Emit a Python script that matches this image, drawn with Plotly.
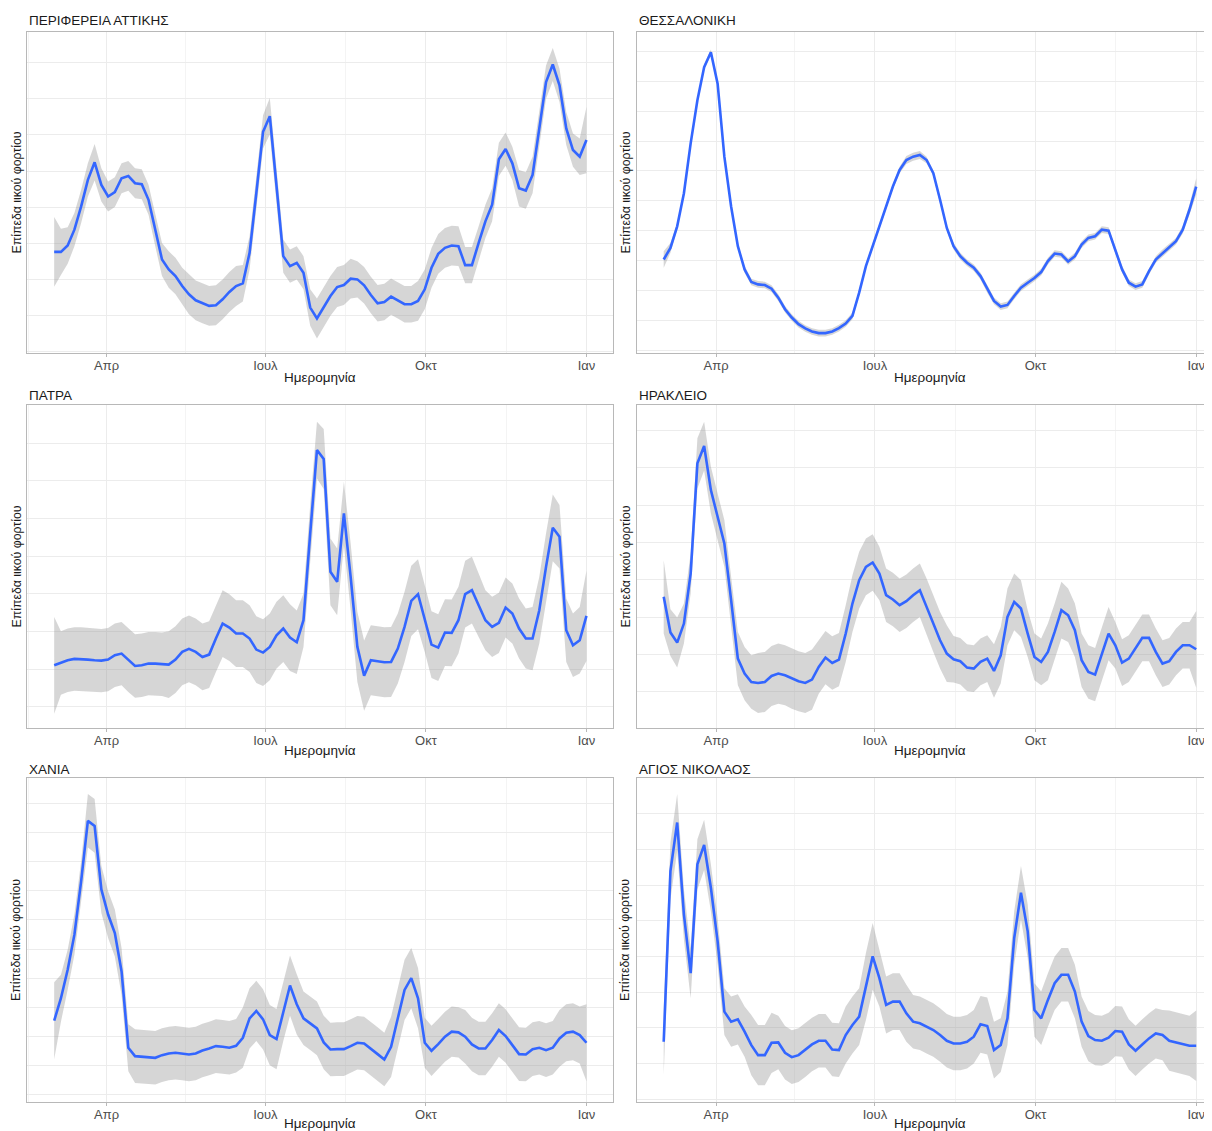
import pandas as pd
import plotly.graph_objects as go

# the page puts an 8px margin round the figure, so the figure is drawn 8px smaller
PAGE_PAD = 8
W, H = 1212 - PAGE_PAD, 1131 - PAGE_PAD

month_ticks = ["2022-04-01", "2022-07-01", "2022-10-01", "2023-01-01"]
month_labels = ["Απρ", "Ιουλ", "Οκτ", "Ιαν"]
minor_ticks = ["2022-02-15", "2022-05-16", "2022-08-16", "2022-11-16"]

panel_names = ["ΠΕΡΙΦΕΡΕΙΑ ΑΤΤΙΚΗΣ", "ΘΕΣΣΑΛΟΝΙΚΗ", "ΠΑΤΡΑ",
               "ΗΡΑΚΛΕΙΟ", "ΧΑΝΙΑ", "ΑΓΙΟΣ ΝΙΚΟΛΑΟΣ"]

# smoothed level (arbitrary units) and half width of the grey band
attiki_level = [30.5, 30.5, 32.4, 37.2, 44.2, 52.2, 57.5, 50.7, 47.2, 48.5,
                52.7, 53.4, 51.2, 50.9, 46.2, 37.2, 28.2, 25.2, 23.2, 20.2,
                17.7, 15.9, 15.0, 14.2, 14.4, 16.2, 18.4, 20.2, 21.0, 30.2,
                48.2, 66.7, 71.4, 50.2, 29.2, 26.2, 27.2, 24.2, 13.7, 10.4,
                13.7, 17.2, 19.9, 20.5, 22.4, 22.2, 20.4, 17.5, 15.0, 15.4,
                17.0, 15.9, 14.7, 14.7, 15.7, 19.2, 25.7, 29.9, 31.7, 32.4,
                32.2, 26.5, 26.5, 33.2, 39.7, 44.7, 58.4, 61.5, 57.2, 49.7,
                49.0, 53.7, 68.2, 81.7, 87.0, 80.7, 67.7, 61.2, 59.2, 64.2]
attiki_band = [10.5, 7, 5.5, 5, 5, 5, 5.5, 5, 4.5, 4.5,
               4.5, 4.5, 4.5, 4.5, 4.5, 5, 5, 5.5, 5.5, 5.5,
               6, 6, 6, 6, 6, 6, 6, 6, 5.5, 5,
               5, 5, 5.5, 5.5, 5, 5, 5, 5, 5.5, 6,
               6, 6, 6, 6, 6, 5.5, 5.5, 5.5, 5.5, 5.5,
               5.5, 5.5, 5.5, 5.5, 6, 6, 6, 6, 6, 6,
               6, 5.5, 5.5, 5, 5, 5, 5, 5, 5, 5.5,
               5.5, 5.5, 5, 5, 5, 5, 5, 5, 5.5, 10]

thess_level = [28.2, 31.7, 38.2, 48.2, 63.2, 76.2, 86.2, 90.7, 81.2, 59.2,
               44.2, 32.2, 25.2, 21.4, 20.7, 20.5, 19.4, 16.7, 13.2, 10.7,
               8.7, 7.4, 6.5, 6.0, 6.0, 6.5, 7.5, 8.9, 11.2, 18.2,
               26.2, 32.2, 38.2, 44.2, 50.2, 55.2, 58.2, 59.2, 59.7, 58.2,
               54.2, 46.2, 37.7, 32.2, 29.2, 27.2, 25.7, 23.2, 19.2, 15.7,
               14.0, 14.5, 17.2, 19.7, 21.2, 22.6, 24.4, 27.7, 30.0, 29.7,
               27.6, 29.2, 32.7, 34.7, 35.2, 37.2, 36.9, 31.2, 25.2, 21.2,
               20.0, 20.7, 24.7, 28.2, 30.2, 31.9, 33.7, 37.2, 43.2, 50.2]
thess_band = [2.5, 1.5, 1.0, 0.8, 0.8, 0.8, 0.8, 0.8, 0.8, 0.8,
              0.8, 0.8, 1.0, 1.0, 1.0, 1.0, 1.0, 1.0, 1.0, 1.0,
              1.0, 1.0, 1.0, 1.0, 1.0, 1.0, 1.0, 1.0, 1.0, 0.8,
              0.8, 0.8, 0.8, 0.8, 0.8, 1.0, 1.2, 1.2, 1.2, 1.0,
              0.8, 0.8, 0.8, 1.0, 1.0, 1.0, 1.0, 1.0, 1.0, 1.0,
              1.0, 1.0, 1.0, 1.0, 1.0, 1.0, 1.0, 1.0, 1.0, 1.0,
              1.0, 1.0, 1.0, 1.0, 1.0, 1.0, 1.0, 1.0, 1.0, 1.0,
              1.0, 1.0, 1.0, 1.0, 1.0, 1.0, 1.0, 1.2, 1.5, 2.5]

patra_level = [18.8, 19.5, 20.3, 20.7, 20.7, 20.5, 20.3, 20.2, 20.5, 21.8,
               22.3, 20.3, 18.6, 18.8, 19.3, 19.3, 19.1, 19.0, 20.5, 22.8,
               23.7, 22.8, 21.3, 22.0, 26.8, 31.3, 30.1, 28.3, 28.3, 26.8,
               23.5, 22.6, 24.3, 27.8, 29.8, 27.1, 25.7, 32.3, 58.3, 83.3,
               80.6, 46.8, 43.8, 64.3, 45.3, 24.3, 15.7, 20.3, 20.0, 19.7,
               19.8, 23.8, 30.3, 38.1, 40.1, 32.8, 25.0, 24.1, 28.6, 28.5,
               32.3, 40.1, 41.3, 36.8, 32.3, 30.3, 31.5, 36.1, 34.3, 29.8,
               26.8, 26.8, 35.3, 48.3, 60.0, 57.3, 29.3, 24.8, 26.3, 33.6]
patra_band = [14.5, 9.5, 9.5, 9.5, 9.5, 9.5, 9.5, 9.5, 9.5, 9.5,
              9.5, 9.5, 9.5, 9.5, 9.5, 9.5, 9.5, 10, 10, 10,
              10, 10, 10, 10, 10, 10, 10, 10, 10, 10,
              10, 10, 10, 10, 10, 10, 9.5, 8, 8.5, 8.5,
              9, 10, 10, 9.5, 10, 10.5, 10.5, 10.5, 10.5, 10.5,
              10.5, 10.5, 10.5, 10.5, 10.5, 10, 10, 10, 10, 10,
              10, 10, 10, 9.5, 9, 9, 9, 9, 9, 9,
              9, 9.5, 10, 10, 10, 9.5, 9.5, 9.5, 10, 13.5]

herakl_level = [39.3, 28.6, 25.6, 31.3, 46.3, 79.3, 84.5, 71.3, 63.3, 55.3,
                38.3, 20.8, 16.3, 13.8, 13.5, 13.8, 15.6, 16.3, 15.8, 14.8,
                14.0, 13.5, 14.5, 18.3, 21.1, 19.5, 20.5, 28.3, 37.3, 44.3,
                48.3, 49.6, 46.3, 39.8, 38.5, 36.8, 38.0, 39.8, 41.3, 36.3,
                31.3, 26.3, 22.3, 20.6, 20.0, 18.1, 17.8, 19.8, 20.8, 17.1,
                21.8, 33.3, 37.8, 35.8, 28.3, 21.3, 19.8, 22.8, 28.8, 35.3,
                33.8, 29.3, 20.3, 16.8, 16.0, 22.3, 28.3, 24.8, 19.6, 20.8,
                23.8, 27.0, 27.0, 22.8, 19.3, 20.0, 22.8, 24.8, 24.8, 23.6]
herakl_band = [11, 7, 7.5, 6, 6, 7.5, 7.3, 7, 7, 7,
               7, 8, 8, 8, 9, 9, 9, 9, 9, 9,
               9, 9, 9, 8, 8, 8, 8, 8.5, 8.5, 8.5,
               8.5, 8.5, 8, 8, 8, 8, 8, 8, 8, 8.5,
               8.5, 8.5, 8.5, 7, 7, 7, 7, 7, 7, 8,
               8.5, 8.5, 8.5, 8.5, 7, 7, 7, 8.5, 8.5, 8.5,
               8, 8, 8, 8, 8, 8, 8, 7, 7, 7,
               7, 7, 7, 7, 7, 7, 7, 7, 7, 11.5]

chania_level = [24.3, 31.0, 39.5, 50.0, 66.0, 84.0, 82.5, 63.5, 56.0, 50.5,
                39.0, 16.2, 13.7, 13.5, 13.3, 13.2, 14.0, 14.5, 14.7, 14.5,
                14.2, 14.5, 15.4, 16.0, 16.7, 16.5, 16.2, 16.8, 19.2, 25.0,
                27.2, 24.7, 20.0, 18.8, 27.2, 34.8, 29.2, 25.0, 23.5, 22.0,
                17.8, 15.7, 15.8, 15.8, 16.7, 17.7, 17.5, 16.0, 14.3, 12.7,
                16.5, 25.0, 33.5, 37.0, 31.0, 17.7, 15.3, 17.3, 19.5, 21.0,
                20.8, 19.5, 17.2, 16.0, 16.0, 18.5, 21.5, 19.7, 17.0, 14.3,
                14.2, 15.8, 16.2, 15.5, 16.2, 19.0, 20.7, 21.0, 20.0, 17.7]
chania_band = [11.5, 7, 6, 6, 6, 8, 8, 7, 7, 7,
               7, 7, 8, 8, 8, 8, 8, 8, 8, 8,
               8, 8, 8, 8, 8, 8, 8, 8, 9, 9,
               9, 9, 9, 9, 9, 9, 9, 8, 8, 8,
               8, 8, 8, 8, 8, 8, 8, 8, 8, 8,
               9, 9, 9, 9, 9, 7.5, 7.5, 7.5, 7.5, 7.5,
               7.5, 8, 8, 8, 8, 8, 8, 8, 8, 8,
               8, 8, 8, 8, 8, 8.5, 8.5, 8.5, 8.5, 11.5]

agnik_level = [18.0, 69.0, 83.5, 56.0, 38.5, 71.0, 76.8, 64.0, 48.0, 27.0,
               24.0, 24.7, 21.0, 17.0, 14.0, 14.0, 17.7, 17.8, 14.7, 13.4,
               14.0, 15.5, 17.2, 18.3, 18.3, 15.7, 15.5, 20.0, 23.0, 25.5,
               34.5, 43.5, 37.0, 29.0, 30.0, 30.0, 26.5, 24.0, 23.5, 22.5,
               21.5, 20.0, 18.3, 17.5, 17.5, 18.0, 19.5, 23.2, 22.7, 15.5,
               17.0, 25.0, 49.0, 62.5, 51.0, 27.5, 25.0, 30.5, 35.5, 38.0,
               38.0, 33.0, 24.0, 19.7, 18.5, 18.3, 19.2, 21.2, 21.0, 17.2,
               15.3, 17.2, 19.0, 20.5, 20.0, 18.3, 17.8, 17.2, 16.8, 16.8]
agnik_band = [10, 8.5, 8.5, 7.5, 7.5, 7.5, 7.5, 7, 7, 7,
              7.5, 7.5, 7.5, 9, 9, 9, 9, 8, 8, 8,
              8, 8, 8, 8, 8, 8, 8, 8.5, 8.5, 8.5,
              10, 10, 8.5, 8.5, 8.5, 8.5, 8.5, 8, 8, 8,
              8, 8, 8, 8, 8, 8, 8, 8.5, 8.5, 8.5,
              8, 8, 8, 8, 8, 8, 8, 8, 8, 8,
              8, 8, 7.5, 7.5, 7.5, 7.5, 7.5, 7.5, 7.5, 7.5,
              7.5, 7.5, 7.5, 7.5, 7.5, 9, 9, 9, 9, 10.5]

levels = [attiki_level, thess_level, patra_level, herakl_level, chania_level, agnik_level]
bands = [attiki_band, thess_band, patra_band, herakl_band, chania_band, agnik_band]
# horizontal grid start / step per panel
grid_start = [11.4, 9.9, 6.3, 10.8, 2.2, 11.5]
grid_step = [10.87, 9.0, 11.3, 11.2, 8.7, 10.65]

# pixel geometry of the panels (screen pixels)
col_left = [27, 637]
col_right = [613, 1212]
col_range = [["2022-02-14 10:00", "2023-01-16 05:00"],
             ["2022-02-14 17:00", "2023-01-10 01:00"]]
xtitle_center = [320, 930]
ytitle_x = [16, 625]
row_top = [32, 405, 778]
row_bottom = [353, 728, 1102]
title_y = [21, 395, 769]
xtitle_y = [377, 750, 1123]

grid_col = "#ececec"
minor_col = "#f4f4f4"
border_col = "#b8b8b8"
font_family = "Liberation Sans, Arial, sans-serif"


def px_x(p):
    return (p - PAGE_PAD) / W


def px_y(p):
    return 1 - (p - PAGE_PAD) / H


fig = go.Figure()
annotations = []

for k, name in enumerate(panel_names):
    row, col = divmod(k, 2)
    n = "" if k == 0 else str(k + 1)
    level = levels[k]
    band = bands[k]
    dates = list(pd.date_range("2022-03-02", "2023-01-01", periods=len(level)))
    hi = [v + b for v, b in zip(level, band)]
    lo = [v - b for v, b in zip(level, band)]

    fig.add_trace(go.Scatter(x=dates + dates[::-1], y=hi + lo[::-1], fill="toself",
                             fillcolor="rgba(153,153,153,0.4)", line=dict(width=0),
                             mode="lines", hoverinfo="skip", showlegend=False,
                             xaxis="x" + n, yaxis="y" + n))
    fig.add_trace(go.Scatter(x=dates, y=level, mode="lines",
                             line=dict(color="#3366FF", width=2.6),
                             showlegend=False, xaxis="x" + n, yaxis="y" + n))

    fig.layout["xaxis" + n] = dict(
        domain=[px_x(col_left[col]), min(1.0, px_x(col_right[col]))], anchor="y" + n,
        type="date", range=col_range[col], tickmode="array",
        tickvals=month_ticks, ticktext=month_labels,
        showgrid=True, gridcolor=grid_col, gridwidth=1,
        minor=dict(tickmode="array", tickvals=minor_ticks, showgrid=True,
                   gridcolor=minor_col, ticks=""),
        showline=True, linecolor=border_col, linewidth=1, mirror=True,
        ticks="outside", ticklen=3, tickcolor=border_col, ticklabelstandoff=-3,
        tickfont=dict(size=13, color="#4d4d4d"), zeroline=False)
    fig.layout["yaxis" + n] = dict(
        domain=[px_y(row_bottom[row]), px_y(row_top[row])], anchor="x" + n,
        range=[0, 96.8], tick0=grid_start[k], dtick=grid_step[k],
        showticklabels=False, ticks="", showgrid=True, gridcolor=grid_col,
        showline=True, linecolor=border_col, linewidth=1, mirror=(col == 0),
        zeroline=False)

    annotations.append(dict(text=name, x=px_x(col_left[col]), y=px_y(title_y[row]),
                            xref="paper", yref="paper", xanchor="left", yanchor="middle",
                            showarrow=False, font=dict(size=13.5, color="#1a1a1a")))
    annotations.append(dict(text="Ημερομηνία", x=px_x(xtitle_center[col]), y=px_y(xtitle_y[row]),
                            xref="paper", yref="paper", xanchor="center", yanchor="middle",
                            showarrow=False, font=dict(size=13.5, color="#1a1a1a")))
    annotations.append(dict(text="Επίπεδα ιικού φορτίου", x=px_x(ytitle_x[col]),
                            y=px_y((row_top[row] + row_bottom[row]) / 2),
                            xref="paper", yref="paper", xanchor="center", yanchor="middle",
                            textangle=-90, showarrow=False,
                            font=dict(size=12.3, color="#1a1a1a")))

fig.update_layout(width=W, height=H, margin=dict(l=0, r=0, t=0, b=0),
                  paper_bgcolor="white", plot_bgcolor="white",
                  font=dict(family=font_family), annotations=annotations,
                  showlegend=False)

fig.write_html("out.html")
